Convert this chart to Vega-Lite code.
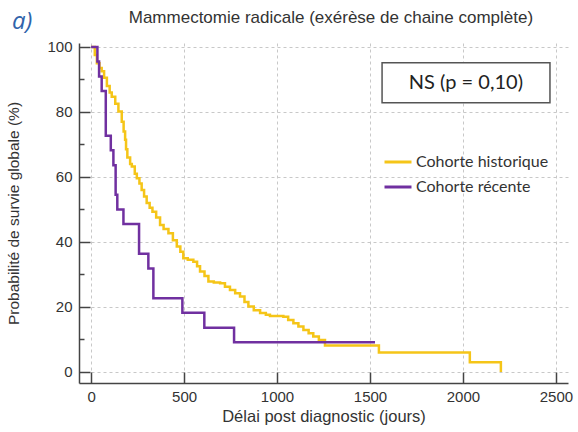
{
  "$schema": "https://vega.github.io/schema/vega-lite/v6.json",
  "autosize": {"type": "none"},
  "width": 489,
  "height": 340,
  "padding": {"left": 79, "top": 43, "right": 10, "bottom": 49},
  "background": "white",
  "config": {
    "view": {"stroke": null},
    "axis": {
      "domainColor": "#444", "domainWidth": 1.5,
      "tickColor": "#444", "tickWidth": 1.5,
      "gridColor": "#c8c8c8", "gridDash": [3, 3], "gridWidth": 1,
      "labelFont": "Liberation Sans", "labelFontSize": 15, "labelColor": "#333",
      "titleFont": "Liberation Sans", "titleFontSize": 15.5, "titleFontWeight": "normal", "titleColor": "#333"
    }
  },
  "datasets": {
    "curves": [
      {"cohorte": "Cohorte historique", "t": 0, "s": 100},
      {"cohorte": "Cohorte historique", "t": 20, "s": 97.5},
      {"cohorte": "Cohorte historique", "t": 31, "s": 95},
      {"cohorte": "Cohorte historique", "t": 45, "s": 93.5},
      {"cohorte": "Cohorte historique", "t": 57, "s": 92.5},
      {"cohorte": "Cohorte historique", "t": 70, "s": 90.5},
      {"cohorte": "Cohorte historique", "t": 85, "s": 88},
      {"cohorte": "Cohorte historique", "t": 100, "s": 86},
      {"cohorte": "Cohorte historique", "t": 111, "s": 84.7},
      {"cohorte": "Cohorte historique", "t": 130, "s": 82.5},
      {"cohorte": "Cohorte historique", "t": 147, "s": 80.1},
      {"cohorte": "Cohorte historique", "t": 165, "s": 77},
      {"cohorte": "Cohorte historique", "t": 175, "s": 74},
      {"cohorte": "Cohorte historique", "t": 183, "s": 71.4},
      {"cohorte": "Cohorte historique", "t": 188, "s": 68.5},
      {"cohorte": "Cohorte historique", "t": 195, "s": 66},
      {"cohorte": "Cohorte historique", "t": 210, "s": 64},
      {"cohorte": "Cohorte historique", "t": 219, "s": 63.2},
      {"cohorte": "Cohorte historique", "t": 235, "s": 61},
      {"cohorte": "Cohorte historique", "t": 246, "s": 59.6},
      {"cohorte": "Cohorte historique", "t": 260, "s": 58},
      {"cohorte": "Cohorte historique", "t": 272, "s": 56},
      {"cohorte": "Cohorte historique", "t": 285, "s": 54},
      {"cohorte": "Cohorte historique", "t": 299, "s": 52},
      {"cohorte": "Cohorte historique", "t": 315, "s": 50.5},
      {"cohorte": "Cohorte historique", "t": 330, "s": 49.3},
      {"cohorte": "Cohorte historique", "t": 350, "s": 47.5},
      {"cohorte": "Cohorte historique", "t": 371, "s": 45.2},
      {"cohorte": "Cohorte historique", "t": 390, "s": 44},
      {"cohorte": "Cohorte historique", "t": 416, "s": 42.7},
      {"cohorte": "Cohorte historique", "t": 440, "s": 40.5},
      {"cohorte": "Cohorte historique", "t": 461, "s": 38.6},
      {"cohorte": "Cohorte historique", "t": 480, "s": 37},
      {"cohorte": "Cohorte historique", "t": 496, "s": 35},
      {"cohorte": "Cohorte historique", "t": 520, "s": 34.5},
      {"cohorte": "Cohorte historique", "t": 550, "s": 33.9},
      {"cohorte": "Cohorte historique", "t": 570, "s": 32.5},
      {"cohorte": "Cohorte historique", "t": 586, "s": 30.9},
      {"cohorte": "Cohorte historique", "t": 610, "s": 29.5},
      {"cohorte": "Cohorte historique", "t": 631, "s": 27.8},
      {"cohorte": "Cohorte historique", "t": 660, "s": 27.5},
      {"cohorte": "Cohorte historique", "t": 694, "s": 27.3},
      {"cohorte": "Cohorte historique", "t": 720, "s": 26.2},
      {"cohorte": "Cohorte historique", "t": 747, "s": 25.2},
      {"cohorte": "Cohorte historique", "t": 775, "s": 24.2},
      {"cohorte": "Cohorte historique", "t": 801, "s": 23.2},
      {"cohorte": "Cohorte historique", "t": 825, "s": 21.5},
      {"cohorte": "Cohorte historique", "t": 846, "s": 20.1},
      {"cohorte": "Cohorte historique", "t": 875, "s": 19},
      {"cohorte": "Cohorte historique", "t": 909, "s": 18.1},
      {"cohorte": "Cohorte historique", "t": 940, "s": 17.6},
      {"cohorte": "Cohorte historique", "t": 962, "s": 17.2},
      {"cohorte": "Cohorte historique", "t": 1034, "s": 17},
      {"cohorte": "Cohorte historique", "t": 1060, "s": 16},
      {"cohorte": "Cohorte historique", "t": 1088, "s": 15},
      {"cohorte": "Cohorte historique", "t": 1115, "s": 14},
      {"cohorte": "Cohorte historique", "t": 1142, "s": 12.9},
      {"cohorte": "Cohorte historique", "t": 1170, "s": 11.9},
      {"cohorte": "Cohorte historique", "t": 1195, "s": 10.9},
      {"cohorte": "Cohorte historique", "t": 1225, "s": 9.8},
      {"cohorte": "Cohorte historique", "t": 1258, "s": 8.1},
      {"cohorte": "Cohorte historique", "t": 1548, "s": 6.0},
      {"cohorte": "Cohorte historique", "t": 2037, "s": 3.0},
      {"cohorte": "Cohorte historique", "t": 2204, "s": 0},
      {"cohorte": "Cohorte récente", "t": 0, "s": 100},
      {"cohorte": "Cohorte récente", "t": 34, "s": 95.5},
      {"cohorte": "Cohorte récente", "t": 43, "s": 90.9},
      {"cohorte": "Cohorte récente", "t": 57, "s": 86.4},
      {"cohorte": "Cohorte récente", "t": 79, "s": 72.7},
      {"cohorte": "Cohorte récente", "t": 106, "s": 68.2},
      {"cohorte": "Cohorte récente", "t": 120, "s": 63.6},
      {"cohorte": "Cohorte récente", "t": 132, "s": 54.5},
      {"cohorte": "Cohorte récente", "t": 141, "s": 50.0},
      {"cohorte": "Cohorte récente", "t": 174, "s": 45.5},
      {"cohorte": "Cohorte récente", "t": 258, "s": 36.4},
      {"cohorte": "Cohorte récente", "t": 308, "s": 31.8},
      {"cohorte": "Cohorte récente", "t": 335, "s": 22.7},
      {"cohorte": "Cohorte récente", "t": 491, "s": 18.2},
      {"cohorte": "Cohorte récente", "t": 609, "s": 13.6},
      {"cohorte": "Cohorte récente", "t": 769, "s": 9.1},
      {"cohorte": "Cohorte récente", "t": 1527, "s": 9.1}
    ],
    "box": [{"x1": 1565, "x2": 2468, "y1": 82.8, "y2": 95.1, "xc": 2016, "yc": 88.9, "label": "NS (p = 0,10)"}],
    "tag": [{"x": -371, "y": 107.7, "label": "a)"}],
    "heading": [{"x": 1290, "y": 108.9, "label": "Mammectomie radicale (exérèse de chaine complète)"}]
  },
  "resolve": {"axis": {"y": "independent"}},
  "layer": [
    {
      "data": {"name": "curves"},
      "mark": {"type": "line", "interpolate": "step-after", "strokeWidth": 2.5},
      "encoding": {
        "x": {
          "field": "t", "type": "quantitative",
          "scale": {"domain": [-65, 2565], "nice": false, "zero": false},
          "axis": {"values": [0, 500, 1000, 1500, 2000, 2500], "format": "d", "tickSize": -11, "labelPadding": 17,
                   "title": "Délai post diagnostic (jours)", "titlePadding": 4, "titleFontSize": 16.5, "labelFlush": false}
        },
        "y": {
          "field": "s", "type": "quantitative",
          "scale": {"domain": [-3.4, 101.2], "nice": false, "zero": false},
          "axis": {"orient": "left", "values": [0, 20, 40, 60, 80, 100], "format": "d", "tickSize": -11, "labelPadding": 18,
                   "title": "Probabilité de survie globale (%)", "titlePadding": 25, "labelFlush": false}
        },
        "color": {
          "field": "cohorte", "type": "nominal",
          "scale": {"domain": ["Cohorte historique", "Cohorte récente"], "range": ["#f5c518", "#7030a0"]},
          "legend": {
            "orient": "none", "legendX": 304, "legendY": 104, "title": null,
            "symbolType": "stroke", "symbolSize": 729, "symbolStrokeWidth": 3,
            "labelFont": "Lato", "labelFontSize": 16, "labelColor": "#333", "labelOffset": 3,
            "rowPadding": 2
          }
        }
      }
    },
    {
      "data": {"name": "box"},
      "mark": {"type": "rect", "fill": "white", "stroke": "#555", "strokeWidth": 1.5},
      "encoding": {
        "x": {"field": "x1", "type": "quantitative"},
        "x2": {"field": "x2"},
        "y": {"field": "y1", "type": "quantitative",
              "axis": {"orient": "left", "values": [10, 30, 50, 70, 90], "tickSize": -5, "labels": false,
                       "grid": false, "domain": false, "title": null}},
        "y2": {"field": "y2"}
      }
    },
    {
      "data": {"name": "box"},
      "mark": {"type": "text", "font": "Lato", "fontSize": 20, "color": "#222", "align": "center", "baseline": "middle"},
      "encoding": {
        "x": {"field": "xc", "type": "quantitative"},
        "y": {"field": "yc", "type": "quantitative", "axis": null},
        "text": {"field": "label"}
      }
    },
    {
      "data": {"name": "tag"},
      "mark": {"type": "text", "font": "Open Sans", "fontSize": 24, "fontStyle": "italic", "color": "#2f64ab", "align": "center", "baseline": "middle", "clip": false},
      "encoding": {
        "x": {"field": "x", "type": "quantitative"},
        "y": {"field": "y", "type": "quantitative", "axis": null},
        "text": {"field": "label"}
      }
    },
    {
      "data": {"name": "heading"},
      "mark": {"type": "text", "font": "Liberation Sans", "fontSize": 17, "color": "#333", "align": "center", "baseline": "middle", "clip": false},
      "encoding": {
        "x": {"field": "x", "type": "quantitative"},
        "y": {"field": "y", "type": "quantitative", "axis": null},
        "text": {"field": "label"}
      }
    }
  ]
}
